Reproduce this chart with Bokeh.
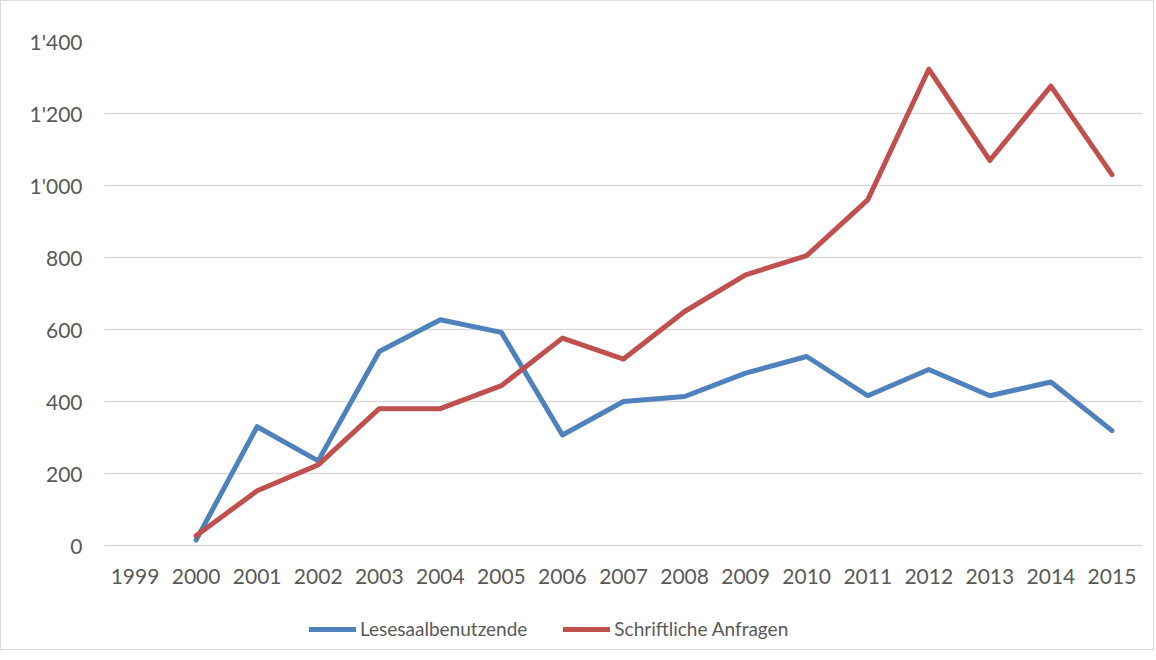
from bokeh.plotting import figure
from bokeh.models import FactorRange, FixedTicker, Legend, LegendItem, ColumnDataSource
from bokeh.core.properties import value
from bokeh.embed import file_html
from bokeh.resources import INLINE

years = [str(y) for y in range(1999, 2016)]
data_years = [str(y) for y in range(2000, 2016)]
lesesaal = [15, 330, 235, 539, 627, 592, 307, 400, 414, 479, 525, 416, 489, 416, 454, 319]
anfragen = [27, 152, 224, 380, 380, 444, 576, 518, 650, 752, 805, 960, 1323, 1070, 1276, 1030]
y_ticks = [0, 200, 400, 600, 800, 1000, 1200, 1400]
y_tick_labels = ["0", "200", "400", "600", "800", "1'000", "1'200", "1'400"]
series_names = ["Lesesaalbenutzende", "Schriftliche Anfragen"]

FONT = "Lato"
TXT = "#595959"
GRID = "#d9d9d9"

Y_MAX = 1400
FRAME_H = 608
PLOT_H = 504  # pixel height of the 0..1400 value band
Y_MIN = -(FRAME_H - PLOT_H) * Y_MAX / PLOT_H  # room below 0 for year labels + legend

p = figure(
    x_range=FactorRange(factors=years, range_padding=0),
    y_range=(Y_MIN, Y_MAX),
    frame_width=1038, frame_height=FRAME_H,
    min_border_left=103, min_border_right=11, min_border_top=40, min_border_bottom=0,
    output_backend="svg", toolbar_location=None,
)
p.styles = {"border": "1px solid #d9d9d9"}
p.outline_line_color = None
p.background_fill_color = "white"
p.border_fill_color = "white"

src_a = ColumnDataSource(dict(x=data_years, y=lesesaal))
src_b = ColumnDataSource(dict(x=data_years, y=anfragen))
r1 = p.line("x", "y", source=src_a, line_color="#4f81bd", line_width=5,
            line_join="round", line_cap="round")
r2 = p.line("x", "y", source=src_b, line_color="#c0504d", line_width=5,
            line_join="round", line_cap="round")

# y axis
p.yaxis.ticker = FixedTicker(ticks=y_ticks)
p.yaxis.major_label_overrides = {t: l for t, l in zip(y_ticks, y_tick_labels)}
ax = p.yaxis[0]
ax.axis_line_color = None
ax.major_tick_line_color = None
ax.minor_tick_line_color = None
ax.major_tick_out = 0
ax.major_tick_in = 0
ax.minor_tick_out = 0
ax.major_label_text_font = FONT
ax.major_label_text_font_size = "21px"
ax.major_label_text_color = TXT
ax.major_label_standoff = 22

# x axis labels drawn as category labels just below the zero line
p.xaxis.visible = False
p.text(x=years, y=[0] * len(years), text=years, y_offset=31,
       text_align="center", text_baseline="middle",
       text_font=value(FONT), text_font_size="21px", text_color=TXT)

p.xgrid.grid_line_color = None
p.ygrid.grid_line_color = GRID
p.ygrid.grid_line_width = 1.5
p.ygrid.ticker = FixedTicker(ticks=y_ticks)

legend = Legend(items=[LegendItem(label=series_names[0], renderers=[r1]),
                       LegendItem(label=series_names[1], renderers=[r2])],
                orientation="horizontal", location=(205, 9),
                label_text_font=FONT, label_text_font_size="19px",
                label_text_color=TXT, glyph_width=47, glyph_height=20,
                label_standoff=4, spacing=36, border_line_color=None,
                padding=0, margin=0, background_fill_alpha=0)
p.add_layout(legend, "center")

open("out.html", "w").write(file_html(p, INLINE))
